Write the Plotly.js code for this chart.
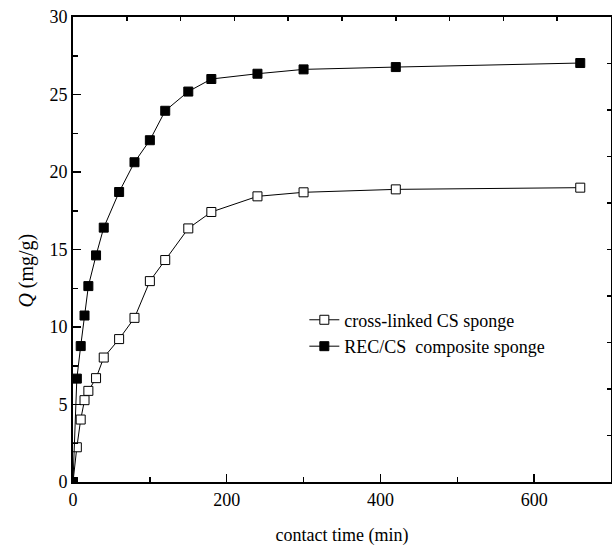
<!DOCTYPE html>
<html><head><meta charset="utf-8">
<script src="https://cdn.plot.ly/plotly-3.0.1.min.js"></script>
<style>html,body{margin:0;padding:0;background:#fff}#chart{width:612px;height:546px}</style>
</head><body><div id="chart"></div>
<script>
// contact time (min)
var timeCS = [0, 5, 10, 15, 20, 30, 40, 60, 80, 100, 120, 150, 180, 240, 300, 420, 660];
var qCS = [0, 2.24, 4.03, 5.28, 5.88, 6.70, 8.03, 9.22, 10.59, 12.96, 14.32, 16.36, 17.42, 18.43, 18.69, 18.88, 18.99];
var timeREC = [0, 5, 10, 15, 20, 30, 40, 60, 80, 100, 120, 150, 180, 240, 300, 420, 660];
var qREC = [0, 6.67, 8.77, 10.74, 12.64, 14.62, 16.41, 18.71, 20.63, 22.05, 23.95, 25.19, 26.0, 26.34, 26.62, 26.77, 27.03];
var xTicks = [0, 200, 400, 600];
var yTicks = [0, 5, 10, 15, 20, 25, 30];
var seriesNames = ['cross-linked CS sponge', 'REC/CS\u00a0 composite sponge'];
var yTitle = '<i>Q</i> (mg/g)';
var xTitle = 'contact time (min)';

var font = {family: '"Liberation Serif", "Times New Roman", serif', size: 18, color: '#000'};

var traces = [
  {x: timeCS, y: qCS, name: seriesNames[0], mode: 'lines+markers',
   line: {color: '#000', width: 1},
   marker: {symbol: 'square', size: 9, color: '#fff', line: {color: '#000', width: 1}}},
  {x: timeREC, y: qREC, name: seriesNames[1], mode: 'lines+markers',
   line: {color: '#000', width: 1},
   marker: {symbol: 'square', size: 9, color: '#000', line: {color: '#000', width: 1}}},
  {x: [0], y: [0], xaxis: 'x2', yaxis: 'y2', mode: 'markers', showlegend: false,
   marker: {opacity: 0}, hoverinfo: 'skip'}
];

var layout = {
  width: 612, height: 546,
  margin: {l: 73, r: 1, t: 17, b: 64},
  paper_bgcolor: '#fff', plot_bgcolor: '#fff',
  font: font,
  showlegend: true,
  legend: {x: 0.43, y: 0.388, xanchor: 'left', yanchor: 'top', bgcolor: 'rgba(0,0,0,0)',
           font: font, tracegroupgap: 0, itemwidth: 30},
  annotations: [{text: yTitle, xref: 'paper', yref: 'paper', x: -0.087, y: 0.455,
                 xanchor: 'center', yanchor: 'middle', textangle: -90, showarrow: false,
                 font: {family: font.family, size: 20, color: '#000'}}],
  xaxis: {range: [0, 700], tickvals: xTicks, ticks: 'inside', ticklen: 8, tickwidth: 1.5,
          tickcolor: '#000', showline: true, linecolor: '#000', linewidth: 2,
          showgrid: false, zeroline: false, tickfont: font,
          minor: {dtick: 100, ticks: 'inside', ticklen: 5, tickwidth: 1.5, tickcolor: '#000', showgrid: false},
          title: {text: xTitle, font: font, standoff: 20}},
  yaxis: {range: [0, 30], tickvals: yTicks, ticks: 'inside', ticklen: 8, tickwidth: 1.5,
          tickcolor: '#000', showline: true, linecolor: '#000', linewidth: 2,
          showgrid: false, zeroline: false, tickfont: font,
          minor: {dtick: 2.5, ticks: 'inside', ticklen: 5, tickwidth: 1.5, tickcolor: '#000', showgrid: false}},
  xaxis2: {overlaying: 'x', side: 'top', anchor: 'y2', range: [0, 700], dtick: 70,
           ticks: 'inside', ticklen: 4, tickwidth: 1.5, tickcolor: '#000',
           showticklabels: false, showline: true, linecolor: '#000', linewidth: 2,
           showgrid: false, zeroline: false},
  yaxis2: {overlaying: 'y', side: 'right', anchor: 'x2', range: [0, 30], dtick: 3,
           ticks: 'inside', ticklen: 4, tickwidth: 1.5, tickcolor: '#000',
           showticklabels: false, showline: true, linecolor: '#000', linewidth: 2,
           showgrid: false, zeroline: false}
};

Plotly.newPlot('chart', traces, layout, {displayModeBar: false, staticPlot: true});
</script></body></html>
